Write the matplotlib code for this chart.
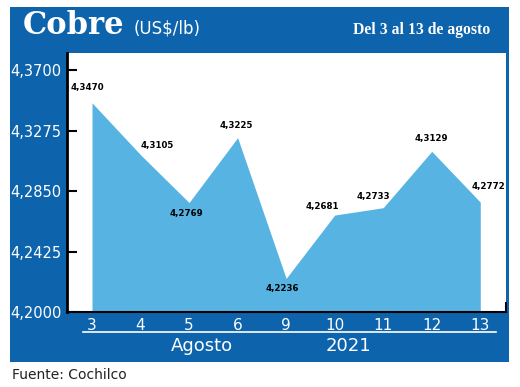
import matplotlib
matplotlib.use("Agg")
import matplotlib.pyplot as plt
from matplotlib.patches import Rectangle

# Cobre (US$/lb), del 3 al 13 de agosto 2021
days = ['3', '4', '5', '6', '9', '10', '11', '12', '13']
prices = [4.3470, 4.3105, 4.2769, 4.3225, 4.2236, 4.2681, 4.2733, 4.3129, 4.2772]
price_labels = ['4,3470', '4,3105', '4,2769', '4,3225', '4,2236',
                '4,2681', '4,2733', '4,3129', '4,2772']
yticks = [4.2000, 4.2425, 4.2850, 4.3275, 4.3700]
ytick_labels = ['4,2000', '4,2425', '4,2850', '4,3275', '4,3700']
# label offsets (points) relative to each vertex
label_offsets = [(-3, 11), (12, 7), (-2, -8), (-1, 9), (-3, -7),
                 (-9, 6), (-7, 8), (0, 9), (6, 11)]

W, H = 520, 387
blue = '#0d64ad'
fill_blue = '#56b3e2'

fig = plt.figure(figsize=(W / 100, H / 100), dpi=100)
fig.patch.set_facecolor('white')
fig.patches.append(Rectangle((10 / W, 1 - 362 / H), 499 / W, 355 / H,
                             transform=fig.transFigure, facecolor=blue,
                             edgecolor='none', zorder=-5))

ax = fig.add_axes([67 / W, 1 - 312 / H, 439 / W, 259 / H])
ax.set_zorder(2)
ax.set_facecolor('white')
x = list(range(len(days)))
ax.fill_between(x, prices, 4.2, color=fill_blue, lw=0)

for xi, v, lab, off in zip(x, prices, price_labels, label_offsets):
    ax.annotate(lab, (xi, v), xytext=off, textcoords='offset points',
                ha='center', va='center', fontsize=6.2, fontweight='bold',
                family='DejaVu Sans', color='black')

ax.set_xlim(-0.515, 8.53)
ax.set_ylim(4.2, 4.382)
ax.set_yticks(yticks)
ax.set_yticklabels(ytick_labels)
ax.set_xticks(x)
ax.set_xticklabels(days)
ax.tick_params(axis='y', direction='in', length=7, width=1.5, color='black',
               labelcolor='white', labelsize=10.5, pad=4)
ax.tick_params(axis='x', length=0, labelcolor='white', labelsize=11, pad=4)

for s in ['top', 'right']:
    ax.spines[s].set_visible(False)
ax.spines['left'].set_linewidth(2)
ax.spines['bottom'].set_linewidth(1.5)
ax.axvline(8.53, ymax=0.035, color='black', lw=1.5, clip_on=False)

# header
fig.text(23 / W, 1 - 34 / H, 'Cobre', color='white', fontsize=22,
         fontweight='bold', family='DejaVu Serif', va='baseline')
fig.text(134 / W, 1 - 34 / H, '(US$/lb)', color='white', fontsize=12,
         va='baseline')
fig.text(490 / W, 1 - 34 / H, 'Del 3 al 13 de agosto', color='white',
         fontsize=11.3, fontweight='bold', family='Liberation Serif',
         va='baseline', ha='right')

# bottom band
fig.lines.append(plt.Line2D([83 / W, 496 / W], [1 - 332 / H, 1 - 332 / H],
                            transform=fig.transFigure, color='white', lw=1.2))
fig.text(202 / W, 1 - 346 / H, 'Agosto', color='white', fontsize=13,
         ha='center', va='center')
fig.text(348 / W, 1 - 346 / H, '2021', color='white', fontsize=13,
         ha='center', va='center')
fig.text(12 / W, 1 - 375 / H, 'Fuente: Cochilco', color='#222222',
         fontsize=10, va='center')

fig.savefig('out.png', dpi=100)
